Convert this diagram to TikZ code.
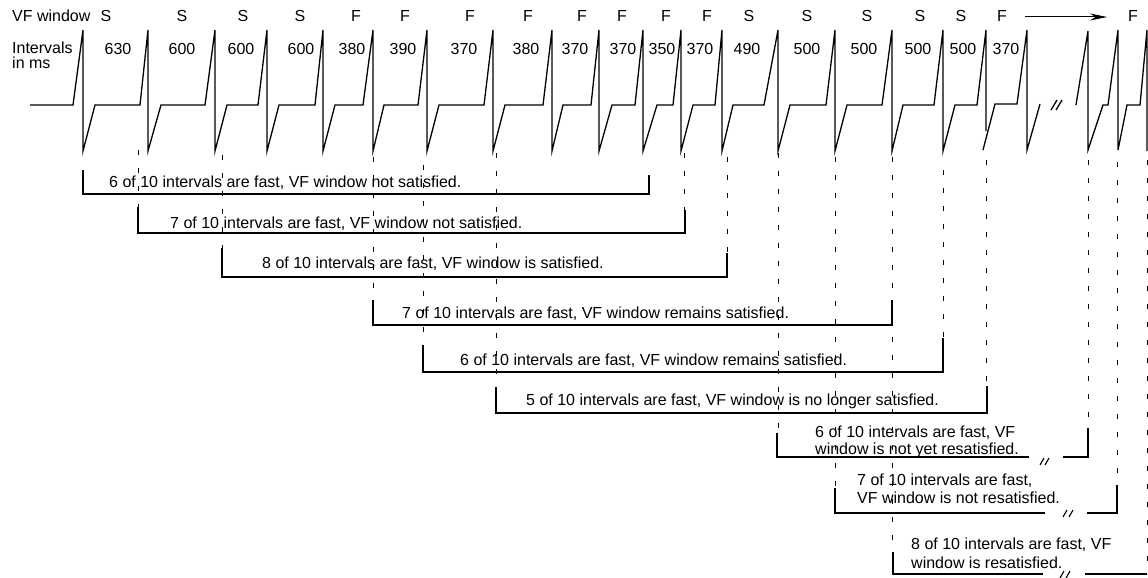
\documentclass[tikz,border=0pt]{standalone}
\usepackage{fontspec}
\setmainfont{Liberation Sans}
\usetikzlibrary{arrows.meta}
\begin{document}
\begin{tikzpicture}[x=1pt,y=-1pt]
\tikzset{
  ecg/.style={line width=1.3pt},
  brk/.style={line width=1.1pt},
  guide/.style={line width=0.8pt, dash pattern=on 5pt off 13pt},
  lbl/.style={inner sep=0pt, anchor=base west, font=\fontsize{16}{17}\selectfont},
  hdr/.style={inner sep=0pt, anchor=base, font=\fontsize{16}{17}\selectfont},
}
\useasboundingbox[fill=white] (0,0) rectangle (1148,578);

% header row: rhythm classification and intervals
\node[lbl] (vfw) at (12,22) {VF window};
\node[lbl] (int1) at (12,54) {Intervals};
\node[lbl] (int2) at (12,69) {in ms};
\foreach \x/\c [count=\i] in {106/S,182/S,243/S,300/S,356/F,405/F,470/F,528/F,582/F,
    622/F,666/F,707/F,749/S,807/S,867/S,920/S,961/S,1002/F,1133/F}
  \node[hdr] (cls\i) at (\x,22) {\c};
\foreach \x/\v [count=\i] in {118/630,182/600,241/600,301/600,352/380,403/390,464/370,526/380,
    575/370,623/370,662/350,700/370,747/490,807/500,864/500,918/500,963/500,1006/370}
  \node[hdr] (ms\i) at (\x,55) {\v};
\draw[line width=1pt, -{Stealth[length=17pt,width=7pt]}] (1025,17) -- (1107,17);

% electrogram trace
\draw[ecg] (30,105)
  \foreach \r/\s/\e in {73/83/95,140/148/161,205/215/227,258/267/279,315/323/335,
      363/373/384,418/427/439,484/493/505,543/552/563,591/599/612,635/643/657,
      673/681/693,715/722/733,764/778/790,826/835/847,882/892/903,934/943/955}
    { -- (\r,105) -- (\s,30) -- (\s,151) -- (\e,105) }
  -- (977,105) -- (986,30) -- (986,131);
\draw[ecg] (983,150) -- (995,104) -- (1017,104) -- (1027,30) -- (1027,150) -- (1040,104);
\draw[ecg] (1051,110) -- (1057,100) (1056,110) -- (1062,100);
\draw[ecg] (1076,105) -- (1088,31) -- (1088,150) -- (1103,105) -- (1108,105)
  -- (1118,30) -- (1118,150) -- (1127,105) -- (1140,105) -- (1147,30) -- (1147,151);

% guide lines from the beats down to the windows
\foreach \x/\a/\b in {138/150/207,222/155/248,373/157/300,423/165/345,496/153/387,
    684/153/210,727/157/253,778/153/433,835/157/488,892/157/552,943/170/338,
    986/160/386,1088/160/428,1117/162/485,1147/160/574}
  \draw[guide] (\x,\a) -- (\x,\b);

% ten-interval windows
\draw[brk] (83,170) -- (83,194) -- (649,194) -- (649,175);
\node[lbl] (w1) at (109,187) {6 of 10 intervals are fast, VF window not satisfied.};
\draw[brk] (138,207) -- (138,233) -- (685,233) -- (685,210);
\node[lbl] (w2) at (170,228) {7 of 10 intervals are fast, VF window not satisfied.};
\draw[brk] (222,248) -- (222,277) -- (727,277) -- (727,253);
\node[lbl] (w3) at (262,268) {8 of 10 intervals are fast, VF window is satisfied.};
\draw[brk] (373,300) -- (373,325) -- (892,325) -- (892,300);
\node[lbl] (w4) at (402,318) {7 of 10 intervals are fast, VF window remains satisfied.};
\draw[brk] (423,345) -- (423,372) -- (943,372) -- (943,338);
\node[lbl] (w5) at (460,365) {6 of 10 intervals are fast, VF window remains satisfied.};
\draw[brk] (496,387) -- (496,413) -- (987,413) -- (987,386);
\node[lbl] (w6) at (526,405) {5 of 10 intervals are fast, VF window is no longer satisfied.};

\draw[brk] (777,433) -- (777,457) -- (1029,457) (1063,457) -- (1088,457) -- (1088,428);
\draw[brk] (1040,465) -- (1044,458) (1045,465) -- (1049,458);
\node[lbl] (w7a) at (815,437) {6 of 10 intervals are fast, VF};
\node[lbl] (w7b) at (815,454) {window is not yet resatisfied.};

\draw[brk] (835,488) -- (835,513) -- (1045,513) (1087,513) -- (1117,513) -- (1117,485);
\draw[brk] (1063,517) -- (1067,510) (1069,517) -- (1073,510);
\node[lbl] (w8a) at (857,485) {7 of 10 intervals are fast,};
\node[lbl] (w8b) at (857,503) {VF window is not resatisfied.};

\draw[brk] (893,552) -- (893,574) -- (1043,574) (1085,574) -- (1147,574);
\draw[brk] (1060,578) -- (1064,571) (1066,578) -- (1070,571);
\node[lbl] (w9a) at (911,549) {8 of 10 intervals are fast, VF};
\node[lbl] (w9b) at (911,568) {window is resatisfied.};
\end{tikzpicture}
\end{document}
